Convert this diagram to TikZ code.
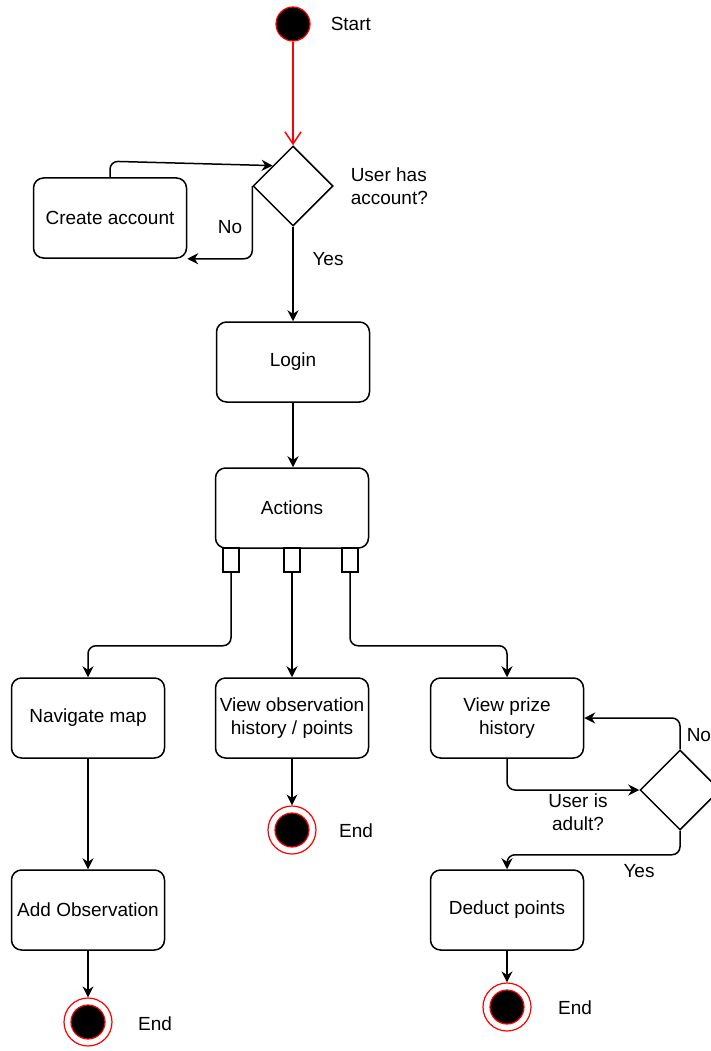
\documentclass[tikz,border=0pt]{standalone}
\usepackage{fontspec}
\setmainfont{Liberation Sans}
\usetikzlibrary{arrows.meta,shapes.geometric,calc}

\begin{document}
\begin{tikzpicture}[x=1pt, y=-1pt, line width=1.5pt,
    every node/.append style={font=\fontsize{19}{23}\selectfont},
    act/.style={draw, rounded corners=10pt, minimum width=153pt, minimum height=80pt,
        inner sep=2pt, align=center},
    decide/.style={draw, diamond, minimum width=80pt, minimum height=80pt, inner sep=0pt},
    pin/.style={draw, fill=white, minimum width=16pt, minimum height=24pt, inner sep=0pt},
    startdot/.style={circle, fill=black, draw=red, line width=1.2pt, minimum size=34pt, inner sep=0pt},
    enddot/.style={circle, draw=red, line width=1.2pt, minimum size=48pt, inner sep=0pt,
        path picture={\filldraw[red, fill=black] (path picture bounding box.center) circle (17pt);}},
    arr/.style={-{Stealth[length=11pt,width=11pt]}, rounded corners=8pt},
    lbl/.style={inner sep=0pt, align=center}]

\useasboundingbox (0,0) rectangle (710,1051);

% Start
\node[startdot] (start) at (293,24) {};
\node[lbl, anchor=west] (tstart) at (330,24) {Start};

% First decision
\node[decide] (q1) at (293,186) {};
\node[lbl, anchor=west, align=left] (tq1) at (350,186) {User has\\account?};
\coordinate (q1in) at ($(q1.west)!0.5!(q1.north)$);

\draw[red, -{Straight Barb[length=12pt,width=16pt]}] (start) -- (q1.north);

% Create account loop
\node[act] (ca) at (110,218) {Create account};
\draw[arr] (q1.west) |- (ca.south east);
\draw[arr] (ca.north) -- ++(0,-16) -- (q1in);
\node[lbl] (tno1) at (230,227) {No};

% Login and actions
\node[act] (login) at (293,362) {Login};
\node[act] (acts) at (292,508) {Actions};
\draw[arr] (q1.south) -- (login.north);
\node[lbl] (tyes1) at (328,259) {Yes};
\draw[arr] (login.south) -- (login.south |- acts.north);

% Output pins
\foreach \px/\nm in {231/pa,292/pb,350/pc}
{
    \node[pin] (\nm) at (\px,560) {};
}

% Second row
\node[act] (nav) at (88,718) {Navigate map};
\node[act] (obs) at (292,718) {View observation\\history / points};
\node[act] (prize) at (507,718) {View prize\\history};

\draw[arr] (pa.south) -- ++(0,73) -| (nav.north);
\draw[arr] (pb.south) -- (obs.north);
\draw[arr] (pc.south) -- ++(0,73) -| (prize.north);

% Adult check
\node[decide] (q2) at (680,790) {};
\draw[arr] (prize.south) |- (q2.west);
\draw[arr] (q2.north) |- (prize.east);
\node[lbl] (tq2) at (578,812) {User is\\adult?};
\node[lbl, anchor=west] (tno2) at (686,735) {No};

% Third row
\node[act] (addobs) at (88,910) {Add Observation};
\node[act] (deduct) at (507,910) {Deduct points};
\draw[arr] (nav.south) -- (addobs.north);
\draw[arr] (q2.south) -- ++(0,24) -| (deduct.north);
\node[lbl] (tyes2) at (639,871) {Yes};

% End points
\node[enddot] (endA) at (88,1022) {};
\node[enddot] (endB) at (292,830) {};
\node[enddot] (endC) at (507,1007) {};
\draw[arr] (addobs.south) -- (endA.north);
\draw[arr] (obs.south) -- (endB.north);
\draw[arr] (deduct.south) -- (endC.north);
\node[lbl] (tendA) at (155,1024) {End};
\node[lbl] (tendB) at (356,831) {End};
\node[lbl] (tendC) at (575,1008) {End};

\end{tikzpicture}
\end{document}
